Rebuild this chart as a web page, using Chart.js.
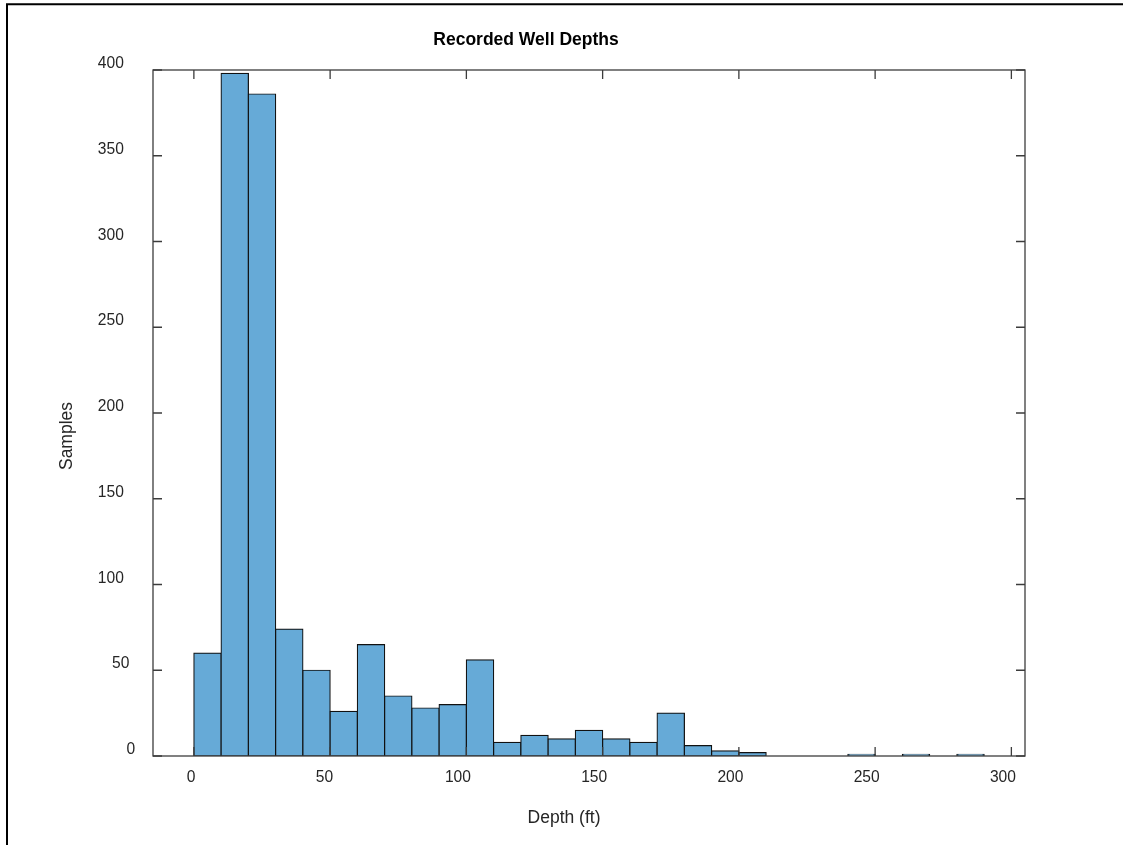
<!DOCTYPE html>
<html><head><meta charset="utf-8">
<script src="https://cdn.jsdelivr.net/npm/chart.js@4/dist/chart.umd.min.js"></script>
<style>html,body{margin:0;padding:0;background:#fff}#wrap{width:1123px;height:845px;position:relative}canvas{display:block}</style>
</head><body><div id="wrap"><canvas id="c" width="1123" height="845"></canvas></div>
<script>
// ---- data ----
const chartTitle = 'Recorded Well Depths';
const xAxisTitle = 'Depth (ft)';
const yAxisTitle = 'Samples';
const binWidth = 10;
const binStarts = [0,10,20,30,40,50,60,70,80,90,100,110,120,130,140,150,160,170,180,190,200,210,220,230,240,250,260,270,280];
const sampleCounts = [60,398,386,74,50,26,65,35,28,30,56,8,12,10,15,10,8,25,6,3,2,0,0,0,1,0,1,0,1];
const xTickValues = [0,50,100,150,200,250,300];
const xTickLabels = ['0','50','100','150','200','250','300'];
const yTickValues = [0,50,100,150,200,250,300,350,400];
const yTickLabels = ['0','50','100','150','200','250','300','350','400'];
const xRange = [-15, 305];
const yRange = [0, 400];

const FONT = '"Liberation Sans", Arial, Helvetica, sans-serif';
const AX = '#3c3c3c';

const matlabAxes = {
  id: 'matlabAxes',
  beforeDraw(chart) {
    const ctx = chart.ctx;
    ctx.save();
    ctx.fillStyle = '#fff';
    ctx.fillRect(0, 0, chart.width, chart.height);
    // outer figure frame (top & left)
    ctx.strokeStyle = '#000';
    ctx.lineWidth = 2;
    ctx.beginPath();
    ctx.moveTo(7, chart.height);
    ctx.lineTo(7, 4.3);
    ctx.lineTo(chart.width, 4.3);
    ctx.stroke();
    ctx.restore();
  },
  afterDraw(chart) {
    const ctx = chart.ctx;
    const a = chart.chartArea;
    const xs = chart.scales.x, ys = chart.scales.y;
    ctx.save();
    // axes box
    ctx.strokeStyle = AX;
    ctx.lineWidth = 1.3;
    ctx.strokeRect(a.left, a.top, a.right - a.left, a.bottom - a.top);
    // ticks (inward, mirrored)
    const TL = 9;
    ctx.beginPath();
    xTickValues.forEach(v => {
      const px = xs.getPixelForValue(v);
      ctx.moveTo(px, a.bottom); ctx.lineTo(px, a.bottom - TL);
      ctx.moveTo(px, a.top); ctx.lineTo(px, a.top + TL);
    });
    yTickValues.forEach(v => {
      const py = ys.getPixelForValue(v);
      ctx.moveTo(a.left, py); ctx.lineTo(a.left + TL, py);
      ctx.moveTo(a.right, py); ctx.lineTo(a.right - TL, py);
    });
    ctx.stroke();
    // tick labels
    ctx.fillStyle = '#262626';
    ctx.font = '15.6px ' + FONT;
    ctx.textAlign = 'left';
    ctx.textBaseline = 'alphabetic';
    xTickValues.forEach((v, i) => {
      const px = xs.getPixelForValue(v);
      const s = xTickLabels[i];
      ctx.fillText(s, px - s.length * 7.15, a.bottom + 25.7);
    });
    yTickValues.forEach((v, i) => {
      const py = ys.getPixelForValue(v);
      const s = yTickLabels[i];
      ctx.fillText(s, a.left - 12.3 - s.length * 14.3, py - 1.8);
    });
    // title
    ctx.fillStyle = '#000';
    ctx.font = 'bold 17.5px ' + FONT;
    ctx.textAlign = 'center';
    ctx.fillText(chartTitle, 526, 45);
    // axis titles
    ctx.fillStyle = '#262626';
    ctx.font = '17.5px ' + FONT;
    ctx.fillText(xAxisTitle, 564, 823.3);
    ctx.save();
    ctx.translate(72, 436);
    ctx.rotate(-Math.PI / 2);
    ctx.fillText(yAxisTitle, 0, 0);
    ctx.restore();
    ctx.restore();
  }
};

new Chart(document.getElementById('c'), {
  type: 'bar',
  data: {
    datasets: [{
      data: binStarts.map((s, i) => ({ x: s + binWidth / 2, y: sampleCounts[i] })),
      backgroundColor: 'rgb(102,170,215)',
      borderColor: '#111',
      borderWidth: 1.2,
      borderSkipped: false,
      inflateAmount: 0.6,
      barPercentage: 1,
      categoryPercentage: 1
    }]
  },
  options: {
    responsive: false,
    animation: false,
    devicePixelRatio: 1,
    layout: { padding: { left: 153, right: 98, top: 70, bottom: 89 } },
    plugins: { legend: { display: false }, title: { display: false }, tooltip: { enabled: false } },
    scales: {
      x: { type: 'linear', min: xRange[0], max: xRange[1], display: false, offset: false },
      y: { type: 'linear', min: yRange[0], max: yRange[1], display: false }
    }
  },
  plugins: [matlabAxes]
});
</script>
</body></html>
